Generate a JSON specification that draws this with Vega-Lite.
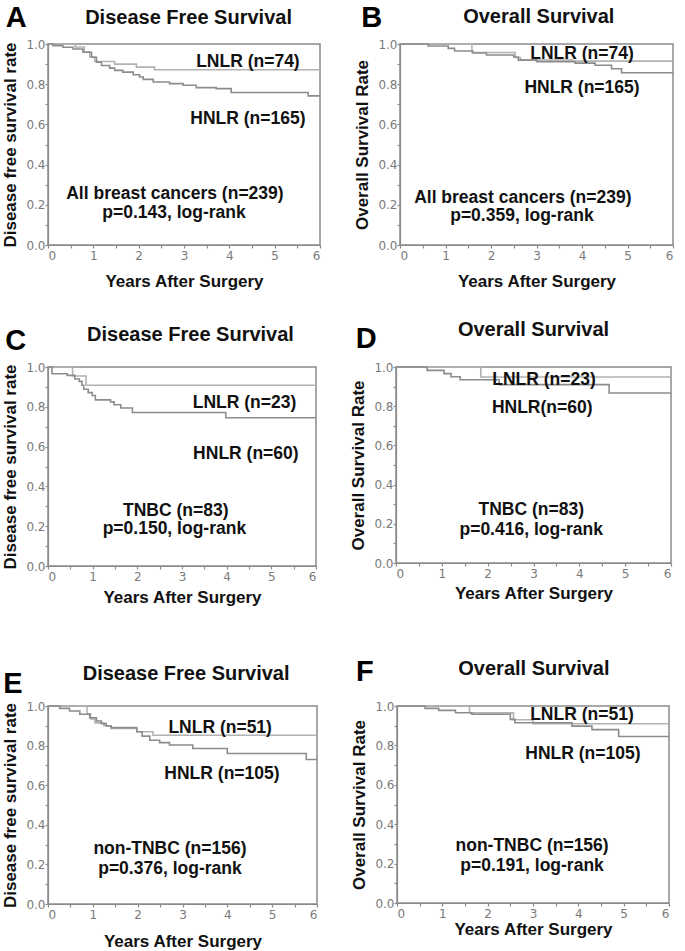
{
  "$schema": "https://vega.github.io/schema/vega-lite/v6.json",
  "padding": {"left": 1, "top": 3, "right": 0, "bottom": 0},
  "background": "white",
  "config": {
    "view": {"stroke": "#8a8a8a", "strokeWidth": 1.5},
    "axis": {"domainColor": "#8a8a8a", "domainWidth": 1.2, "tickColor": "#8a8a8a", "tickWidth": 1.2, "labelColor": "#7a7a7a", "labelFont": "DejaVu Sans", "labelFontSize": 12, "titleFont": "Liberation Sans", "titleFontSize": 17, "titleFontWeight": "bold", "titleColor": "#111", "grid": false, "tickSize": 3, "labelOverlap": false}
  },
  "datasets": {
    "curves": [
      {"panel": "A", "group": "LNLR", "t": 0, "s": 1},
      {"panel": "A", "group": "LNLR", "t": 0.6, "s": 0.985},
      {"panel": "A", "group": "LNLR", "t": 0.8, "s": 0.96},
      {"panel": "A", "group": "LNLR", "t": 0.92, "s": 0.935},
      {"panel": "A", "group": "LNLR", "t": 1.03, "s": 0.913},
      {"panel": "A", "group": "LNLR", "t": 1.47, "s": 0.9},
      {"panel": "A", "group": "LNLR", "t": 1.95, "s": 0.885},
      {"panel": "A", "group": "LNLR", "t": 2.35, "s": 0.872},
      {"panel": "A", "group": "LNLR", "t": 6, "s": 0.872},
      {"panel": "A", "group": "HNLR", "t": 0, "s": 1},
      {"panel": "A", "group": "HNLR", "t": 0.11, "s": 0.992},
      {"panel": "A", "group": "HNLR", "t": 0.33, "s": 0.984},
      {"panel": "A", "group": "HNLR", "t": 0.55, "s": 0.975},
      {"panel": "A", "group": "HNLR", "t": 0.77, "s": 0.959},
      {"panel": "A", "group": "HNLR", "t": 0.96, "s": 0.934},
      {"panel": "A", "group": "HNLR", "t": 1.07, "s": 0.91},
      {"panel": "A", "group": "HNLR", "t": 1.18, "s": 0.893},
      {"panel": "A", "group": "HNLR", "t": 1.36, "s": 0.88},
      {"panel": "A", "group": "HNLR", "t": 1.47, "s": 0.869},
      {"panel": "A", "group": "HNLR", "t": 1.65, "s": 0.86},
      {"panel": "A", "group": "HNLR", "t": 1.88, "s": 0.847},
      {"panel": "A", "group": "HNLR", "t": 2.02, "s": 0.836},
      {"panel": "A", "group": "HNLR", "t": 2.1, "s": 0.824},
      {"panel": "A", "group": "HNLR", "t": 2.32, "s": 0.811},
      {"panel": "A", "group": "HNLR", "t": 2.68, "s": 0.803},
      {"panel": "A", "group": "HNLR", "t": 2.98, "s": 0.795},
      {"panel": "A", "group": "HNLR", "t": 3.27, "s": 0.783},
      {"panel": "A", "group": "HNLR", "t": 3.71, "s": 0.778},
      {"panel": "A", "group": "HNLR", "t": 4.04, "s": 0.759},
      {"panel": "A", "group": "HNLR", "t": 5.74, "s": 0.742},
      {"panel": "A", "group": "HNLR", "t": 6, "s": 0.742},

      {"panel": "B", "group": "LNLR", "t": 0, "s": 1},
      {"panel": "B", "group": "LNLR", "t": 1.58, "s": 0.958},
      {"panel": "B", "group": "LNLR", "t": 2.53, "s": 0.933},
      {"panel": "B", "group": "LNLR", "t": 2.65, "s": 0.92},
      {"panel": "B", "group": "LNLR", "t": 3.8, "s": 0.915},
      {"panel": "B", "group": "LNLR", "t": 6, "s": 0.915},
      {"panel": "B", "group": "HNLR", "t": 0, "s": 1},
      {"panel": "B", "group": "HNLR", "t": 0.62, "s": 0.99},
      {"panel": "B", "group": "HNLR", "t": 1.06, "s": 0.978},
      {"panel": "B", "group": "HNLR", "t": 1.2, "s": 0.965},
      {"panel": "B", "group": "HNLR", "t": 1.6, "s": 0.955},
      {"panel": "B", "group": "HNLR", "t": 1.9, "s": 0.945},
      {"panel": "B", "group": "HNLR", "t": 2.5, "s": 0.935},
      {"panel": "B", "group": "HNLR", "t": 2.6, "s": 0.92},
      {"panel": "B", "group": "HNLR", "t": 3.0, "s": 0.912},
      {"panel": "B", "group": "HNLR", "t": 3.85, "s": 0.905},
      {"panel": "B", "group": "HNLR", "t": 4.29, "s": 0.894},
      {"panel": "B", "group": "HNLR", "t": 4.65, "s": 0.877},
      {"panel": "B", "group": "HNLR", "t": 4.87, "s": 0.857},
      {"panel": "B", "group": "HNLR", "t": 6, "s": 0.857},

      {"panel": "C", "group": "LNLR", "t": 0, "s": 1},
      {"panel": "C", "group": "LNLR", "t": 0.55, "s": 0.955},
      {"panel": "C", "group": "LNLR", "t": 0.85, "s": 0.908},
      {"panel": "C", "group": "LNLR", "t": 6, "s": 0.908},
      {"panel": "C", "group": "HNLR", "t": 0, "s": 1},
      {"panel": "C", "group": "HNLR", "t": 0.09, "s": 0.966},
      {"panel": "C", "group": "HNLR", "t": 0.43, "s": 0.958},
      {"panel": "C", "group": "HNLR", "t": 0.6, "s": 0.94},
      {"panel": "C", "group": "HNLR", "t": 0.7, "s": 0.928},
      {"panel": "C", "group": "HNLR", "t": 0.76, "s": 0.908},
      {"panel": "C", "group": "HNLR", "t": 0.8, "s": 0.888},
      {"panel": "C", "group": "HNLR", "t": 0.9, "s": 0.871},
      {"panel": "C", "group": "HNLR", "t": 0.99, "s": 0.857},
      {"panel": "C", "group": "HNLR", "t": 1.06, "s": 0.835},
      {"panel": "C", "group": "HNLR", "t": 1.4, "s": 0.825},
      {"panel": "C", "group": "HNLR", "t": 1.48, "s": 0.81},
      {"panel": "C", "group": "HNLR", "t": 1.63, "s": 0.794},
      {"panel": "C", "group": "HNLR", "t": 1.89, "s": 0.771},
      {"panel": "C", "group": "HNLR", "t": 3.98, "s": 0.745},
      {"panel": "C", "group": "HNLR", "t": 6, "s": 0.745},

      {"panel": "D", "group": "LNLR", "t": 0, "s": 1},
      {"panel": "D", "group": "LNLR", "t": 1.85, "s": 0.949},
      {"panel": "D", "group": "LNLR", "t": 6, "s": 0.949},
      {"panel": "D", "group": "HNLR", "t": 0, "s": 1},
      {"panel": "D", "group": "HNLR", "t": 0.68, "s": 0.983},
      {"panel": "D", "group": "HNLR", "t": 1.05, "s": 0.966},
      {"panel": "D", "group": "HNLR", "t": 1.2, "s": 0.95},
      {"panel": "D", "group": "HNLR", "t": 1.4, "s": 0.935},
      {"panel": "D", "group": "HNLR", "t": 2.25, "s": 0.91},
      {"panel": "D", "group": "HNLR", "t": 4.65, "s": 0.867},
      {"panel": "D", "group": "HNLR", "t": 6, "s": 0.867},

      {"panel": "E", "group": "LNLR", "t": 0, "s": 1},
      {"panel": "E", "group": "LNLR", "t": 0.87, "s": 0.96},
      {"panel": "E", "group": "LNLR", "t": 0.95, "s": 0.935},
      {"panel": "E", "group": "LNLR", "t": 1.05, "s": 0.915},
      {"panel": "E", "group": "LNLR", "t": 1.25, "s": 0.9},
      {"panel": "E", "group": "LNLR", "t": 1.4, "s": 0.887},
      {"panel": "E", "group": "LNLR", "t": 1.98, "s": 0.87},
      {"panel": "E", "group": "LNLR", "t": 2.34, "s": 0.852},
      {"panel": "E", "group": "LNLR", "t": 6, "s": 0.852},
      {"panel": "E", "group": "HNLR", "t": 0, "s": 1},
      {"panel": "E", "group": "HNLR", "t": 0.26, "s": 0.988},
      {"panel": "E", "group": "HNLR", "t": 0.48, "s": 0.975},
      {"panel": "E", "group": "HNLR", "t": 0.71, "s": 0.958},
      {"panel": "E", "group": "HNLR", "t": 0.93, "s": 0.941},
      {"panel": "E", "group": "HNLR", "t": 1.08, "s": 0.924},
      {"panel": "E", "group": "HNLR", "t": 1.19, "s": 0.911},
      {"panel": "E", "group": "HNLR", "t": 1.3, "s": 0.899},
      {"panel": "E", "group": "HNLR", "t": 1.41, "s": 0.891},
      {"panel": "E", "group": "HNLR", "t": 1.98, "s": 0.87},
      {"panel": "E", "group": "HNLR", "t": 2.1, "s": 0.848},
      {"panel": "E", "group": "HNLR", "t": 2.27, "s": 0.827},
      {"panel": "E", "group": "HNLR", "t": 2.49, "s": 0.815},
      {"panel": "E", "group": "HNLR", "t": 2.71, "s": 0.803},
      {"panel": "E", "group": "HNLR", "t": 3.23, "s": 0.785},
      {"panel": "E", "group": "HNLR", "t": 4.0, "s": 0.76},
      {"panel": "E", "group": "HNLR", "t": 5.76, "s": 0.73},
      {"panel": "E", "group": "HNLR", "t": 6, "s": 0.73},

      {"panel": "F", "group": "LNLR", "t": 0, "s": 1},
      {"panel": "F", "group": "LNLR", "t": 1.6, "s": 0.965},
      {"panel": "F", "group": "LNLR", "t": 2.57, "s": 0.93},
      {"panel": "F", "group": "LNLR", "t": 3.0, "s": 0.91},
      {"panel": "F", "group": "LNLR", "t": 6, "s": 0.91},
      {"panel": "F", "group": "HNLR", "t": 0, "s": 1},
      {"panel": "F", "group": "HNLR", "t": 0.62, "s": 0.988},
      {"panel": "F", "group": "HNLR", "t": 0.92, "s": 0.978},
      {"panel": "F", "group": "HNLR", "t": 1.29, "s": 0.966},
      {"panel": "F", "group": "HNLR", "t": 1.65, "s": 0.958},
      {"panel": "F", "group": "HNLR", "t": 2.5, "s": 0.932},
      {"panel": "F", "group": "HNLR", "t": 2.6, "s": 0.915},
      {"panel": "F", "group": "HNLR", "t": 3.86, "s": 0.898},
      {"panel": "F", "group": "HNLR", "t": 4.3, "s": 0.88},
      {"panel": "F", "group": "HNLR", "t": 4.89, "s": 0.845},
      {"panel": "F", "group": "HNLR", "t": 6, "s": 0.845}
    ],
    "notes": [
      {"panel": "A", "t": 4.41, "s": 0.91, "label": "LNLR (n=74)"},
      {"panel": "A", "t": 4.41, "s": 0.625, "label": "HNLR (n=165)"},
      {"panel": "A", "t": 2.8, "s": 0.256, "label": "All breast cancers (n=239)"},
      {"panel": "A", "t": 2.78, "s": 0.16, "label": "p=0.143, log-rank"},
      {"panel": "B", "t": 4.0, "s": 0.95, "label": "LNLR (n=74)"},
      {"panel": "B", "t": 4.0, "s": 0.78, "label": "HNLR (n=165)"},
      {"panel": "B", "t": 2.7, "s": 0.235, "label": "All breast cancers (n=239)"},
      {"panel": "B", "t": 2.68, "s": 0.146, "label": "p=0.359, log-rank"},
      {"panel": "C", "t": 4.4, "s": 0.82, "label": "LNLR (n=23)"},
      {"panel": "C", "t": 4.43, "s": 0.563, "label": "HNLR (n=60)"},
      {"panel": "C", "t": 2.86, "s": 0.278, "label": "TNBC (n=83)"},
      {"panel": "C", "t": 2.83, "s": 0.186, "label": "p=0.150, log-rank"},
      {"panel": "D", "t": 3.23, "s": 0.934, "label": "LNLR (n=23)"},
      {"panel": "D", "t": 3.19, "s": 0.793, "label": "HNLR(n=60)"},
      {"panel": "D", "t": 2.95, "s": 0.27, "label": "TNBC (n=83)"},
      {"panel": "D", "t": 2.95, "s": 0.168, "label": "p=0.416, log-rank"},
      {"panel": "E", "t": 3.84, "s": 0.89, "label": "LNLR (n=51)"},
      {"panel": "E", "t": 3.88, "s": 0.656, "label": "HNLR (n=105)"},
      {"panel": "E", "t": 2.72, "s": 0.278, "label": "non-TNBC (n=156)"},
      {"panel": "E", "t": 2.72, "s": 0.177, "label": "p=0.376, log-rank"},
      {"panel": "F", "t": 4.08, "s": 0.954, "label": "LNLR (n=51)"},
      {"panel": "F", "t": 4.1, "s": 0.756, "label": "HNLR (n=105)"},
      {"panel": "F", "t": 2.98, "s": 0.29, "label": "non-TNBC (n=156)"},
      {"panel": "F", "t": 2.98, "s": 0.188, "label": "p=0.191, log-rank"}
    ],
    "headings": [
      {"panel": "A", "t": 3.1, "s": 1.13, "label": "Disease Free Survival"},
      {"panel": "B", "t": 3.05, "s": 1.135, "label": "Overall Survival"},
      {"panel": "C", "t": 3.19, "s": 1.16, "label": "Disease Free Survival"},
      {"panel": "D", "t": 3.0, "s": 1.19, "label": "Overall Survival"},
      {"panel": "E", "t": 3.08, "s": 1.16, "label": "Disease Free Survival"},
      {"panel": "F", "t": 3.02, "s": 1.19, "label": "Overall Survival"}
    ],
    "letters": [
      {"panel": "A", "t": -0.7, "s": 1.13, "label": "A"},
      {"panel": "B", "t": -0.62, "s": 1.13, "label": "B"},
      {"panel": "C", "t": -0.72, "s": 1.131, "label": "C"},
      {"panel": "D", "t": -0.65, "s": 1.143, "label": "D"},
      {"panel": "E", "t": -0.78, "s": 1.111, "label": "E"},
      {"panel": "F", "t": -0.71, "s": 1.173, "label": "F"}
    ]
  },
  "vconcat": [
    {
      "vconcat": [
        {
          "hconcat": [
            {
              "width": 272, "height": 201,
              "encoding": {
                "x": {"field": "t", "type": "quantitative", "scale": {"domain": [0, 6], "nice": false, "zero": false}, "axis": {"title": "Years After Surgery", "values": [0, 0.5, 1, 1.5, 2, 2.5, 3, 3.5, 4, 4.5, 5, 5.5, 6], "labelExpr": "datum.value % 1 === 0 ? format(datum.value, 'd') : ''", "labelPadding": 2, "titlePadding": 12}},
                "y": {"field": "s", "type": "quantitative", "scale": {"domain": [0, 1], "nice": false, "zero": false}, "axis": {"title": "Disease free survival rate", "values": [0, 0.1, 0.2, 0.3, 0.4, 0.5, 0.6, 0.7, 0.8, 0.9, 1], "labelExpr": "round(datum.value * 10) % 2 === 0 ? format(datum.value, '.1f') : ''", "labelPadding": 0, "titlePadding": 6}}
              },
              "layer": [
                {"data": {"name": "curves"}, "transform": [{"filter": "datum.panel === 'A'"}], "mark": {"type": "line", "interpolate": "step-after", "strokeWidth": 1.6}, "encoding": {"color": {"field": "group", "type": "nominal", "scale": {"domain": ["LNLR", "HNLR"], "range": ["#b2b2b2", "#8c8c8c"]}, "legend": null}}},
                {"data": {"name": "notes"}, "transform": [{"filter": "datum.panel === 'A'"}], "mark": {"type": "text", "font": "Liberation Sans", "fontWeight": "bold", "fontSize": 17.5, "color": "#111"}, "encoding": {"text": {"field": "label"}}},
                {"data": {"name": "headings"}, "transform": [{"filter": "datum.panel === 'A'"}], "mark": {"type": "text", "font": "Liberation Sans", "fontWeight": "bold", "fontSize": 20, "color": "#111"}, "encoding": {"text": {"field": "label"}}},
                {"data": {"name": "letters"}, "transform": [{"filter": "datum.panel === 'A'"}], "mark": {"type": "text", "font": "Liberation Sans", "fontWeight": "bold", "fontSize": 29, "color": "#000"}, "encoding": {"text": {"field": "label"}}}
              ]
            },
            {
              "width": 273, "height": 201,
              "encoding": {
                "x": {"field": "t", "type": "quantitative", "scale": {"domain": [0, 6], "nice": false, "zero": false}, "axis": {"title": "Years After Surgery", "values": [0, 0.5, 1, 1.5, 2, 2.5, 3, 3.5, 4, 4.5, 5, 5.5, 6], "labelExpr": "datum.value % 1 === 0 ? format(datum.value, 'd') : ''", "labelPadding": 2, "titlePadding": 12}},
                "y": {"field": "s", "type": "quantitative", "scale": {"domain": [0, 1], "nice": false, "zero": false}, "axis": {"title": "Overall  Survival Rate", "values": [0, 0.1, 0.2, 0.3, 0.4, 0.5, 0.6, 0.7, 0.8, 0.9, 1], "labelExpr": "round(datum.value * 10) % 2 === 0 ? format(datum.value, '.1f') : ''", "labelPadding": 0, "titlePadding": 6}}
              },
              "layer": [
                {"data": {"name": "curves"}, "transform": [{"filter": "datum.panel === 'B'"}], "mark": {"type": "line", "interpolate": "step-after", "strokeWidth": 1.6}, "encoding": {"color": {"field": "group", "type": "nominal", "scale": {"domain": ["LNLR", "HNLR"], "range": ["#b2b2b2", "#8c8c8c"]}, "legend": null}}},
                {"data": {"name": "notes"}, "transform": [{"filter": "datum.panel === 'B'"}], "mark": {"type": "text", "font": "Liberation Sans", "fontWeight": "bold", "fontSize": 17.5, "color": "#111"}, "encoding": {"text": {"field": "label"}}},
                {"data": {"name": "headings"}, "transform": [{"filter": "datum.panel === 'B'"}], "mark": {"type": "text", "font": "Liberation Sans", "fontWeight": "bold", "fontSize": 20, "color": "#111"}, "encoding": {"text": {"field": "label"}}},
                {"data": {"name": "letters"}, "transform": [{"filter": "datum.panel === 'B'"}], "mark": {"type": "text", "font": "Liberation Sans", "fontWeight": "bold", "fontSize": 29, "color": "#000"}, "encoding": {"text": {"field": "label"}}}
              ]
            }
          ],
          "spacing": 29
        },
        {
          "hconcat": [
            {
              "width": 268, "height": 199,
              "encoding": {
                "x": {"field": "t", "type": "quantitative", "scale": {"domain": [0, 6], "nice": false, "zero": false}, "axis": {"title": "Years After Surgery", "values": [0, 0.5, 1, 1.5, 2, 2.5, 3, 3.5, 4, 4.5, 5, 5.5, 6], "labelExpr": "datum.value % 1 === 0 ? format(datum.value, 'd') : ''", "labelPadding": 2, "titlePadding": 7}},
                "y": {"field": "s", "type": "quantitative", "scale": {"domain": [0, 1], "nice": false, "zero": false}, "axis": {"title": "Disease free survival rate", "values": [0, 0.1, 0.2, 0.3, 0.4, 0.5, 0.6, 0.7, 0.8, 0.9, 1], "labelExpr": "round(datum.value * 10) % 2 === 0 ? format(datum.value, '.1f') : ''", "labelPadding": 0, "titlePadding": 6}}
              },
              "layer": [
                {"data": {"name": "curves"}, "transform": [{"filter": "datum.panel === 'C'"}], "mark": {"type": "line", "interpolate": "step-after", "strokeWidth": 1.6}, "encoding": {"color": {"field": "group", "type": "nominal", "scale": {"domain": ["LNLR", "HNLR"], "range": ["#b2b2b2", "#8c8c8c"]}, "legend": null}}},
                {"data": {"name": "notes"}, "transform": [{"filter": "datum.panel === 'C'"}], "mark": {"type": "text", "font": "Liberation Sans", "fontWeight": "bold", "fontSize": 17.5, "color": "#111"}, "encoding": {"text": {"field": "label"}}},
                {"data": {"name": "headings"}, "transform": [{"filter": "datum.panel === 'C'"}], "mark": {"type": "text", "font": "Liberation Sans", "fontWeight": "bold", "fontSize": 20, "color": "#111"}, "encoding": {"text": {"field": "label"}}},
                {"data": {"name": "letters"}, "transform": [{"filter": "datum.panel === 'C'"}], "mark": {"type": "text", "font": "Liberation Sans", "fontWeight": "bold", "fontSize": 29, "color": "#000"}, "encoding": {"text": {"field": "label"}}}
              ]
            },
            {
              "width": 275, "height": 196,
              "encoding": {
                "x": {"field": "t", "type": "quantitative", "scale": {"domain": [0, 6], "nice": false, "zero": false}, "axis": {"title": "Years After Surgery", "values": [0, 0.5, 1, 1.5, 2, 2.5, 3, 3.5, 4, 4.5, 5, 5.5, 6], "labelExpr": "datum.value % 1 === 0 ? format(datum.value, 'd') : ''", "labelPadding": 2, "titlePadding": 6}},
                "y": {"field": "s", "type": "quantitative", "scale": {"domain": [0, 1], "nice": false, "zero": false}, "axis": {"title": "Overall  Survival Rate", "values": [0, 0.1, 0.2, 0.3, 0.4, 0.5, 0.6, 0.7, 0.8, 0.9, 1], "labelExpr": "round(datum.value * 10) % 2 === 0 ? format(datum.value, '.1f') : ''", "labelPadding": 0, "titlePadding": 6}}
              },
              "layer": [
                {"data": {"name": "curves"}, "transform": [{"filter": "datum.panel === 'D'"}], "mark": {"type": "line", "interpolate": "step-after", "strokeWidth": 1.6}, "encoding": {"color": {"field": "group", "type": "nominal", "scale": {"domain": ["LNLR", "HNLR"], "range": ["#b2b2b2", "#8c8c8c"]}, "legend": null}}},
                {"data": {"name": "notes"}, "transform": [{"filter": "datum.panel === 'D'"}], "mark": {"type": "text", "font": "Liberation Sans", "fontWeight": "bold", "fontSize": 17.5, "color": "#111"}, "encoding": {"text": {"field": "label"}}},
                {"data": {"name": "headings"}, "transform": [{"filter": "datum.panel === 'D'"}], "mark": {"type": "text", "font": "Liberation Sans", "fontWeight": "bold", "fontSize": 20, "color": "#111"}, "encoding": {"text": {"field": "label"}}},
                {"data": {"name": "letters"}, "transform": [{"filter": "datum.panel === 'D'"}], "mark": {"type": "text", "font": "Liberation Sans", "fontWeight": "bold", "fontSize": 29, "color": "#000"}, "encoding": {"text": {"field": "label"}}}
              ]
            }
          ],
          "spacing": 29
        }
      ],
      "spacing": 29
    },
    {
      "hconcat": [
        {
          "width": 269, "height": 198,
          "encoding": {
            "x": {"field": "t", "type": "quantitative", "scale": {"domain": [0, 6], "nice": false, "zero": false}, "axis": {"title": "Years After Surgery", "values": [0, 0.5, 1, 1.5, 2, 2.5, 3, 3.5, 4, 4.5, 5, 5.5, 6], "labelExpr": "datum.value % 1 === 0 ? format(datum.value, 'd') : ''", "labelPadding": 2, "titlePadding": 13}},
            "y": {"field": "s", "type": "quantitative", "scale": {"domain": [0, 1], "nice": false, "zero": false}, "axis": {"title": "Disease free survival rate", "values": [0, 0.1, 0.2, 0.3, 0.4, 0.5, 0.6, 0.7, 0.8, 0.9, 1], "labelExpr": "round(datum.value * 10) % 2 === 0 ? format(datum.value, '.1f') : ''", "labelPadding": 0, "titlePadding": 6}}
          },
          "layer": [
            {"data": {"name": "curves"}, "transform": [{"filter": "datum.panel === 'E'"}], "mark": {"type": "line", "interpolate": "step-after", "strokeWidth": 1.6}, "encoding": {"color": {"field": "group", "type": "nominal", "scale": {"domain": ["LNLR", "HNLR"], "range": ["#b2b2b2", "#8c8c8c"]}, "legend": null}}},
            {"data": {"name": "notes"}, "transform": [{"filter": "datum.panel === 'E'"}], "mark": {"type": "text", "font": "Liberation Sans", "fontWeight": "bold", "fontSize": 17.5, "color": "#111"}, "encoding": {"text": {"field": "label"}}},
            {"data": {"name": "headings"}, "transform": [{"filter": "datum.panel === 'E'"}], "mark": {"type": "text", "font": "Liberation Sans", "fontWeight": "bold", "fontSize": 20, "color": "#111"}, "encoding": {"text": {"field": "label"}}},
            {"data": {"name": "letters"}, "transform": [{"filter": "datum.panel === 'E'"}], "mark": {"type": "text", "font": "Liberation Sans", "fontWeight": "bold", "fontSize": 29, "color": "#000"}, "encoding": {"text": {"field": "label"}}}
          ]
        },
        {
          "width": 272, "height": 197,
          "encoding": {
            "x": {"field": "t", "type": "quantitative", "scale": {"domain": [0, 6], "nice": false, "zero": false}, "axis": {"title": "Years After Surgery", "values": [0, 0.5, 1, 1.5, 2, 2.5, 3, 3.5, 4, 4.5, 5, 5.5, 6], "labelExpr": "datum.value % 1 === 0 ? format(datum.value, 'd') : ''", "labelPadding": 2, "titlePadding": 2}},
            "y": {"field": "s", "type": "quantitative", "scale": {"domain": [0, 1], "nice": false, "zero": false}, "axis": {"title": "Overall  Survival Rate", "values": [0, 0.1, 0.2, 0.3, 0.4, 0.5, 0.6, 0.7, 0.8, 0.9, 1], "labelExpr": "round(datum.value * 10) % 2 === 0 ? format(datum.value, '.1f') : ''", "labelPadding": 0, "titlePadding": 6}}
          },
          "layer": [
            {"data": {"name": "curves"}, "transform": [{"filter": "datum.panel === 'F'"}], "mark": {"type": "line", "interpolate": "step-after", "strokeWidth": 1.6}, "encoding": {"color": {"field": "group", "type": "nominal", "scale": {"domain": ["LNLR", "HNLR"], "range": ["#b2b2b2", "#8c8c8c"]}, "legend": null}}},
            {"data": {"name": "notes"}, "transform": [{"filter": "datum.panel === 'F'"}], "mark": {"type": "text", "font": "Liberation Sans", "fontWeight": "bold", "fontSize": 17.5, "color": "#111"}, "encoding": {"text": {"field": "label"}}},
            {"data": {"name": "headings"}, "transform": [{"filter": "datum.panel === 'F'"}], "mark": {"type": "text", "font": "Liberation Sans", "fontWeight": "bold", "fontSize": 20, "color": "#111"}, "encoding": {"text": {"field": "label"}}},
            {"data": {"name": "letters"}, "transform": [{"filter": "datum.panel === 'F'"}], "mark": {"type": "text", "font": "Liberation Sans", "fontWeight": "bold", "fontSize": 29, "color": "#000"}, "encoding": {"text": {"field": "label"}}}
          ]
        }
      ],
      "spacing": 29
    }
  ],
  "spacing": 51
}
